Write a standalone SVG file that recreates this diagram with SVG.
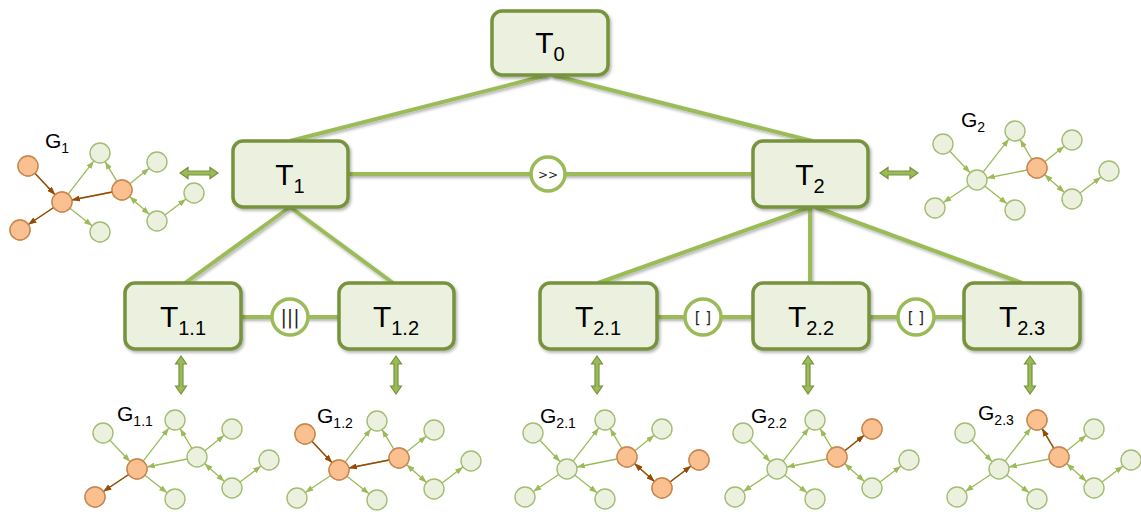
<svg xmlns="http://www.w3.org/2000/svg" xmlns:xlink="http://www.w3.org/1999/xlink" width="1141" height="512" viewBox="0 0 1141 512">
<style>
.box{fill:#EBF1DE;stroke:#77933C;stroke-width:3.5}
.lbl{font-family:"Liberation Sans",Arial,sans-serif;font-size:30px;fill:#000;text-anchor:middle}
.sub{font-size:20px}
.con{stroke:#9BBB59;stroke-width:4;fill:none}
.op{fill:#fff;stroke:#9BBB59;stroke-width:3.5}
.optx{font-family:"DejaVu Sans",sans-serif;fill:#262626;text-anchor:middle}
.dbl{fill:#9BBB59;stroke:#77933C;stroke-width:1.2}
.ge{stroke:#9BBB59;stroke-width:1.3;fill:none;marker-end:url(#ag)}
.be{stroke:#984807;stroke-width:1.3;fill:none;marker-end:url(#ab)}
.gn{fill:#EBF1DE;stroke:#A3BC72;stroke-width:1.4}
.on{fill:#FAC090;stroke:#CF8450;stroke-width:1.4}
.gl{font-family:"Liberation Sans",Arial,sans-serif;font-size:21px;fill:#000}
.gs{font-size:14px}
</style>
<defs>
<filter id="sh" x="-10%" y="-10%" width="130%" height="140%"><feDropShadow dx="1.5" dy="2" stdDeviation="1.5" flood-color="#000" flood-opacity="0.3"/></filter>
<marker id="ag" viewBox="0 0 8 6" refX="8" refY="3" markerWidth="8" markerHeight="6" orient="auto-start-reverse" markerUnits="userSpaceOnUse"><path d="M0,0 L8,3 L0,6 z" fill="#9BBB59"/></marker>
<marker id="ab" viewBox="0 0 8 6" refX="8" refY="3" markerWidth="8" markerHeight="6" orient="auto-start-reverse" markerUnits="userSpaceOnUse"><path d="M0,0 L8,3 L0,6 z" fill="#984807"/></marker>
<path id="dh" class="dbl" d="M-19,0 L-11,-5.5 L-11,-2 L11,-2 L11,-5.5 L19,0 L11,5.5 L11,2 L-11,2 L-11,5.5 Z"/>
<g id="tpl">
<path class="ge" d="M29.9,50.3 L50.1,71.7"/>
<path class="ge" d="M48.7,84.5 L23.3,101.5"/>
<path class="ge" d="M63.1,71.1 L88.9,37.9"/>
<path class="ge" d="M64.9,85.2 L87.1,102.8"/>
<path class="ge" d="M107.2,69.0 L66.8,77.0"/>
<path class="ge" d="M111.9,58.4 L100.1,38.6"/>
<path class="ge" d="M124.8,60.8 L144.2,45.3"/>
<path class="ge" style="marker-start:url(#ag)" d="M124.5,73.6 L144.5,91.4"/>
<path class="ge" d="M160.0,92.0 L181.0,76.0"/>
<circle class="gn" cx="23" cy="43" r="10"/>
<circle class="gn" cx="57" cy="79" r="10"/>
<circle class="gn" cx="15" cy="107" r="10"/>
<circle class="gn" cx="95" cy="30" r="10"/>
<circle class="gn" cx="95" cy="109" r="10"/>
<circle class="gn" cx="117" cy="67" r="10"/>
<circle class="gn" cx="152" cy="39" r="10"/>
<circle class="gn" cx="152" cy="98" r="10"/>
<circle class="gn" cx="189" cy="70" r="10"/>
</g>
</defs>
<rect width="1141" height="512" fill="#fff"/>

<g id="connectors">
<g filter="url(#sh)">
<line class="con" x1="548" y1="75" x2="290" y2="141"/>
<line class="con" x1="552" y1="75" x2="812" y2="141"/>
<line class="con" x1="290" y1="207" x2="185" y2="283"/>
<line class="con" x1="290" y1="207" x2="393" y2="283"/>
<line class="con" x1="811" y1="207" x2="598" y2="283"/>
<line class="con" x1="810" y1="207" x2="810" y2="283"/>
<line class="con" x1="815" y1="207" x2="1022" y2="283"/>
<line class="con" x1="348" y1="174" x2="753" y2="174"/>
<line class="con" x1="241" y1="317" x2="339" y2="317"/>
<line class="con" x1="657" y1="317" x2="964" y2="317"/>
</g>
<use xlink:href="#dh" transform="translate(199,173)"/>
<use xlink:href="#dh" transform="translate(899,173)"/>
<use xlink:href="#dh" transform="translate(181,375) rotate(90)"/>
<use xlink:href="#dh" transform="translate(396,375) rotate(90)"/>
<use xlink:href="#dh" transform="translate(597,375) rotate(90)"/>
<use xlink:href="#dh" transform="translate(808,375) rotate(90)"/>
<use xlink:href="#dh" transform="translate(1030,375) rotate(90)"/>
</g>

<g id="op-seq">
<circle class="op" cx="548" cy="174" r="17"/>
<text class="optx" x="548" y="179" font-size="12">&gt;&gt;</text>
</g>
<g id="op-par">
<circle class="op" cx="290" cy="317" r="18"/>
<text class="optx" x="290" y="324" font-size="19">|||</text>
</g>
<g id="op-choice1">
<circle class="op" cx="703" cy="317" r="18"/>
<text class="optx" x="703" y="323" font-size="15">[ ]</text>
</g>
<g id="op-choice2">
<circle class="op" cx="916" cy="317" r="18"/>
<text class="optx" x="916" y="323" font-size="15">[ ]</text>
</g>

<g id="T0">
<rect class="box" filter="url(#sh)" x="492" y="11" width="116" height="64" rx="10"/>
<text class="lbl" x="550" y="53">T<tspan class="sub" dy="8">0</tspan></text>
</g>
<g id="T1">
<rect class="box" filter="url(#sh)" x="233" y="141" width="115" height="66" rx="10"/>
<text class="lbl" x="290" y="185">T<tspan class="sub" dy="8">1</tspan></text>
</g>
<g id="T2">
<rect class="box" filter="url(#sh)" x="753" y="141" width="115" height="66" rx="10"/>
<text class="lbl" x="810" y="185">T<tspan class="sub" dy="8">2</tspan></text>
</g>
<g id="T1.1">
<rect class="box" filter="url(#sh)" x="125" y="283" width="116" height="66" rx="10"/>
<text class="lbl" x="183" y="327">T<tspan class="sub" dy="8">1.1</tspan></text>
</g>
<g id="T1.2">
<rect class="box" filter="url(#sh)" x="339" y="283" width="115" height="66" rx="10"/>
<text class="lbl" x="396" y="327">T<tspan class="sub" dy="8">1.2</tspan></text>
</g>
<g id="T2.1">
<rect class="box" filter="url(#sh)" x="540" y="283" width="117" height="66" rx="10"/>
<text class="lbl" x="598" y="327">T<tspan class="sub" dy="8">2.1</tspan></text>
</g>
<g id="T2.2">
<rect class="box" filter="url(#sh)" x="753" y="283" width="116" height="66" rx="10"/>
<text class="lbl" x="811" y="327">T<tspan class="sub" dy="8">2.2</tspan></text>
</g>
<g id="T2.3">
<rect class="box" filter="url(#sh)" x="964" y="283" width="116" height="66" rx="10"/>
<text class="lbl" x="1022" y="327">T<tspan class="sub" dy="8">2.3</tspan></text>
</g>

<g id="G1">
<g transform="translate(5,123)">
<use xlink:href="#tpl"/>
<path class="be" d="M29.9,50.3 L50.1,71.7"/>
<path class="be" d="M48.7,84.5 L23.3,101.5"/>
<path class="be" d="M107.2,69.0 L66.8,77.0"/>
<circle class="on" cx="23" cy="43" r="10"/>
<circle class="on" cx="57" cy="79" r="10"/>
<circle class="on" cx="15" cy="107" r="10"/>
<circle class="on" cx="117" cy="67" r="10"/>
</g>
<text class="gl" x="45" y="148">G<tspan class="gs" dy="5">1</tspan></text>
</g>

<g id="G2">
<g transform="translate(920,101)">
<use xlink:href="#tpl"/>
<circle class="on" cx="117" cy="67" r="10"/>
</g>
<text class="gl" x="961" y="127">G<tspan class="gs" dy="5">2</tspan></text>
</g>

<g id="G1.1">
<g transform="translate(80,390)">
<use xlink:href="#tpl"/>
<path class="be" d="M48.7,84.5 L23.3,101.5"/>
<circle class="on" cx="57" cy="79" r="10"/>
<circle class="on" cx="15" cy="107" r="10"/>
</g>
<text class="gl" x="117" y="421">G<tspan class="gs" dy="5">1.1</tspan></text>
</g>

<g id="G1.2">
<g transform="translate(282,391)">
<use xlink:href="#tpl"/>
<path class="be" d="M29.9,50.3 L50.1,71.7"/>
<path class="be" d="M107.2,69.0 L66.8,77.0"/>
<circle class="on" cx="23" cy="43" r="10"/>
<circle class="on" cx="57" cy="79" r="10"/>
<circle class="on" cx="117" cy="67" r="10"/>
</g>
<text class="gl" x="317" y="423">G<tspan class="gs" dy="5">1.2</tspan></text>
</g>

<g id="G2.1">
<g transform="translate(510,390)">
<use xlink:href="#tpl"/>
<path class="be" style="marker-start:url(#ab)" d="M124.5,73.6 L144.5,91.4"/>
<path class="be" d="M160.0,92.0 L181.0,76.0"/>
<circle class="on" cx="117" cy="67" r="10"/>
<circle class="on" cx="152" cy="98" r="10"/>
<circle class="on" cx="189" cy="70" r="10"/>
</g>
<text class="gl" x="540" y="423">G<tspan class="gs" dy="5">2.1</tspan></text>
</g>

<g id="G2.2">
<g transform="translate(720,390)">
<use xlink:href="#tpl"/>
<path class="be" d="M124.8,60.8 L144.2,45.3"/>
<circle class="on" cx="117" cy="67" r="10"/>
<circle class="on" cx="152" cy="39" r="10"/>
</g>
<text class="gl" x="751" y="423">G<tspan class="gs" dy="5">2.2</tspan></text>
</g>

<g id="G2.3">
<g transform="translate(942,390)">
<use xlink:href="#tpl"/>
<path class="be" d="M111.9,58.4 L100.1,38.6"/>
<circle class="on" cx="95" cy="30" r="10"/>
<circle class="on" cx="117" cy="67" r="10"/>
</g>
<text class="gl" x="978" y="420">G<tspan class="gs" dy="5">2.3</tspan></text>
</g>
</svg>
